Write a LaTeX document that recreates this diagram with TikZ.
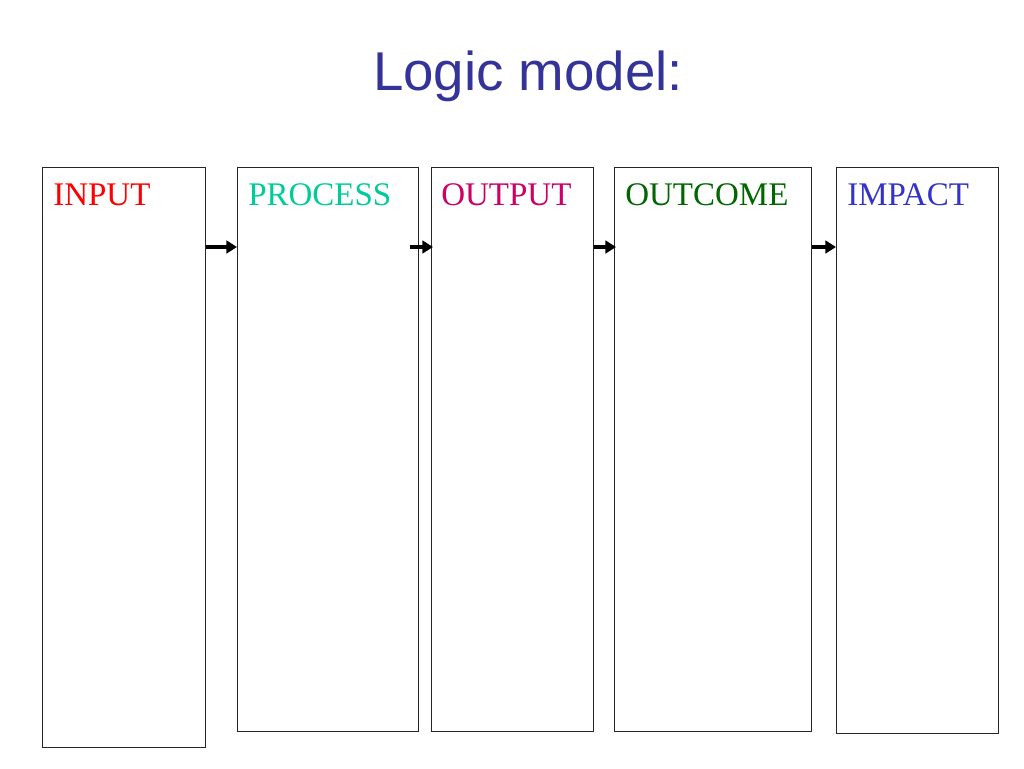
\documentclass[tikz,border=0pt]{standalone}
\usepackage{fontspec}
\setmainfont{Liberation Serif}
\newfontfamily\titlefont{Liberation Sans}
\usepackage{tikz}
\usetikzlibrary{arrows.meta}

\definecolor{titleblue}{RGB}{51,51,153}
\definecolor{inred}{RGB}{255,0,0}
\definecolor{proteal}{RGB}{0,204,153}
\definecolor{outcrimson}{RGB}{204,0,102}
\definecolor{ocgreen}{RGB}{0,102,0}
\definecolor{impblue}{RGB}{51,51,204}

\begin{document}
\begin{tikzpicture}[x=0.75pt,y=-0.75pt]
	\tikzstyle{every node}+=[inner sep=0pt]
	\tikzstyle{stage}=[draw=black!85,line width=0.9pt,fill=white,anchor=north west]
	\tikzstyle{lbl}=[anchor=base west,font=\fontsize{24.75}{28}\selectfont]
	\tikzstyle{arr}=[line width=3pt,-{Triangle[length=8pt,width=9.5pt]}]
	\useasboundingbox (0,0) rectangle (1024,768);
	\node (title) at (528,90) [anchor=base,text=titleblue,font=\titlefont\fontsize{41}{48}\selectfont] {Logic model:};
	% boxes
	\node (input) at (42,167) [stage,minimum width=122.25pt,minimum height=435pt] {};
	\node (process) at (237,167) [stage,minimum width=135.75pt,minimum height=423pt] {};
	\node (output) at (431,167) [stage,minimum width=121.5pt,minimum height=423pt] {};
	\node (outcome) at (614,167) [stage,minimum width=147.75pt,minimum height=423pt] {};
	\node (impact) at (836,167) [stage,minimum width=121.5pt,minimum height=424.5pt] {};
	% labels
	\node (inputlbl) at (53,205) [lbl,text=inred] {INPUT};
	\node (processlbl) at (248,205) [lbl,text=proteal] {PROCESS};
	\node (outputlbl) at (441,205) [lbl,text=outcrimson] {OUTPUT};
	\node (outcomelbl) at (625,205) [lbl,text=ocgreen] {OUTCOME};
	\node (impactlbl) at (847,205) [lbl,text=impblue] {IMPACT};
	% arrows
	\coordinate (ay) at (0,247);
	\coordinate (a2) at (410,247);
	\draw [arr] (input.east |- ay) -- (process.west |- ay);
	\draw [arr] (a2) -- ([xshift=1.5pt]output.west |- ay);
	\draw [arr] (output.east |- ay) -- ([xshift=1.5pt]outcome.west |- ay);
	\draw [arr] (outcome.east |- ay) -- (impact.west |- ay);
\end{tikzpicture}
\end{document}
